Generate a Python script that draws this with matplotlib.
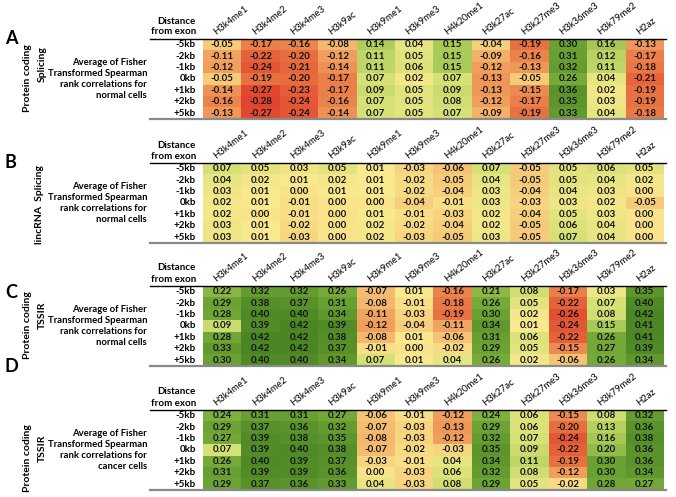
import numpy as np
import matplotlib
matplotlib.use("Agg")
from matplotlib import pyplot as plt
from matplotlib.colors import LinearSegmentedColormap, Normalize

plt.rcParams['font.family'] = ['Lato', 'DejaVu Sans']

marks = ['H3k4me1', 'H3k4me2', 'H3k4me3', 'H3k9ac', 'H3k9me1', 'H3k9me3',
         'H4k20me1', 'H3k27ac', 'H3k27me3', 'H3k36me3', 'H3k79me2', 'H2az']
dist = ['-5kb', '-2kb', '-1kb', '0kb', '+1kb', '+2kb', '+5kb']

pc_splicing = [
    [-0.05, -0.17, -0.16, -0.08, 0.14, 0.04, 0.15, -0.04, -0.19, 0.30, 0.16, -0.13],
    [-0.11, -0.22, -0.20, -0.12, 0.11, 0.05, 0.15, -0.09, -0.16, 0.31, 0.12, -0.17],
    [-0.12, -0.24, -0.21, -0.14, 0.11, 0.06, 0.15, -0.12, -0.13, 0.32, 0.11, -0.18],
    [-0.05, -0.19, -0.20, -0.17, 0.07, 0.02, 0.07, -0.13, -0.05, 0.26, 0.04, -0.21],
    [-0.14, -0.27, -0.23, -0.17, 0.09, 0.05, 0.09, -0.13, -0.15, 0.36, 0.02, -0.19],
    [-0.16, -0.28, -0.24, -0.16, 0.07, 0.05, 0.08, -0.12, -0.17, 0.35, 0.03, -0.19],
    [-0.13, -0.27, -0.24, -0.14, 0.07, 0.05, 0.07, -0.09, -0.19, 0.33, 0.04, -0.18],
]
linc_splicing = [
    [0.07, 0.05, 0.03, 0.05, 0.01, -0.03, -0.06, 0.07, -0.05, 0.05, 0.06, 0.05],
    [0.04, 0.02, 0.01, 0.02, 0.01, -0.02, -0.05, 0.04, -0.05, 0.05, 0.04, 0.02],
    [0.03, 0.01, 0.00, 0.01, 0.01, -0.02, -0.04, 0.03, -0.04, 0.04, 0.03, 0.00],
    [0.02, 0.01, -0.01, 0.00, 0.00, -0.04, -0.01, 0.03, -0.03, 0.03, 0.02, -0.05],
    [0.02, 0.00, -0.01, 0.00, 0.01, -0.01, -0.03, 0.02, -0.04, 0.05, 0.03, 0.00],
    [0.03, 0.01, -0.02, 0.00, 0.02, -0.02, -0.04, 0.02, -0.05, 0.06, 0.04, 0.00],
    [0.03, 0.01, -0.03, 0.00, 0.02, -0.03, -0.05, 0.03, -0.05, 0.07, 0.04, 0.00],
]
tssir_normal = [
    [0.22, 0.32, 0.32, 0.26, -0.07, 0.01, -0.16, 0.21, 0.08, -0.17, 0.03, 0.35],
    [0.29, 0.38, 0.37, 0.31, -0.08, -0.01, -0.18, 0.26, 0.05, -0.22, 0.07, 0.40],
    [0.28, 0.40, 0.40, 0.34, -0.11, -0.03, -0.19, 0.30, 0.02, -0.26, 0.08, 0.42],
    [0.09, 0.39, 0.42, 0.39, -0.12, -0.04, -0.11, 0.34, 0.01, -0.24, 0.15, 0.41],
    [0.28, 0.42, 0.42, 0.38, -0.08, 0.01, -0.06, 0.31, 0.06, -0.22, 0.26, 0.41],
    [0.33, 0.42, 0.42, 0.37, -0.01, 0.00, -0.02, 0.29, 0.05, -0.15, 0.27, 0.39],
    [0.30, 0.40, 0.40, 0.34, 0.07, 0.01, 0.04, 0.26, 0.02, -0.06, 0.26, 0.34],
]
tssir_cancer = [
    [0.24, 0.31, 0.31, 0.27, -0.06, -0.01, -0.12, 0.24, 0.06, -0.15, 0.08, 0.32],
    [0.29, 0.37, 0.36, 0.32, -0.07, -0.03, -0.13, 0.29, 0.06, -0.20, 0.13, 0.36],
    [0.27, 0.39, 0.38, 0.35, -0.08, -0.03, -0.12, 0.32, 0.07, -0.24, 0.16, 0.38],
    [0.07, 0.39, 0.40, 0.38, -0.07, -0.02, -0.03, 0.35, 0.09, -0.22, 0.20, 0.36],
    [0.26, 0.40, 0.39, 0.37, -0.03, -0.01, 0.04, 0.34, 0.11, -0.19, 0.30, 0.36],
    [0.31, 0.39, 0.39, 0.36, 0.00, -0.03, 0.06, 0.32, 0.08, -0.12, 0.30, 0.34],
    [0.29, 0.37, 0.36, 0.33, 0.04, -0.03, 0.08, 0.29, 0.05, -0.02, 0.28, 0.27],
]

panel_letters = ['A', 'B', 'C', 'D']
side_labels = [('Protein coding', 'Splicing'), ('lincRNA  Splicing', None),
               ('Protein coding', 'TSSIR'), ('Protein coding', 'TSSIR')]
cell_types = ['normal cells', 'normal cells', 'normal cells', 'cancer cells']
tables = [pc_splicing, linc_splicing, tssir_normal, tssir_cancer]

# red - yellow - green scale, shared by all panels
vmin, vmax = -0.28, 0.42
stops = [(-0.28, (224, 68, 46)), (-0.20, (231, 108, 62)), (-0.12, (239, 158, 92)),
         (-0.04, (246, 208, 125)), (0.01, (249, 232, 142)), (0.07, (214, 224, 118)),
         (0.15, (170, 202, 88)), (0.26, (118, 170, 56)), (0.42, (74, 134, 36))]
cmap = LinearSegmentedColormap.from_list(
    'ryg', [((v - vmin) / (vmax - vmin), tuple(c / 255 for c in rgb)) for v, rgb in stops])
norm = Normalize(vmin, vmax)

W, H = 676, 497
fig = plt.figure(figsize=(W / 100, H / 100), dpi=100)

def fx(px):
    return px / W

def fy(py):
    return 1 - py / H

# layout in pixels
tops = [39, 163, 286, 410]
letter_y = [39, 163, 292, 366]
side_off = [(39, 25), (41, None), (39, 29), (48, 38)]
x0, x1 = 203, 664
row_h = 11.4

for k in range(4):
    data = np.array(tables[k])
    top = tops[k]
    bottom = top + row_h * len(dist)
    ax = fig.add_axes([fx(x0), fy(bottom), fx(x1) - fx(x0), (bottom - top) / H])
    ax.pcolormesh(data, cmap=cmap, norm=norm)
    ax.set_xlim(0, len(marks))
    ax.set_ylim(len(dist), 0)
    ax.axis('off')
    for i in range(len(dist)):
        for j in range(len(marks)):
            ax.text(j + 0.5, i + 0.5, f"{data[i, j]:.2f}", ha='center', va='center',
                    fontsize=7, fontweight='bold', color='#111111')
    for j, m in enumerate(marks):
        ax.text(j + 0.38, -0.25, m, rotation=38, rotation_mode='anchor',
                ha='left', va='bottom', fontsize=6.8, color='black')
    for i, d in enumerate(dist):
        fig.text(fx(196), fy(top + row_h * (i + 0.5)), d, ha='right', va='center',
                 fontsize=7, fontweight='bold')
    # rules above and below the table
    fig.add_artist(plt.Line2D([fx(150), fx(666)], [fy(top), fy(top)], color='black', lw=1.0))
    fig.add_artist(plt.Line2D([fx(150), fx(666)], [fy(bottom + 0.5), fy(bottom + 0.5)],
                              color='#8a8a8a', lw=1.6))
    fig.text(fx(196), fy(top - 18), 'Distance', ha='right', va='center', fontsize=7,
             fontweight='bold')
    fig.text(fx(196), fy(top - 7), 'from exon', ha='right', va='center', fontsize=7,
             fontweight='bold')
    fig.text(fx(147), fy(top + 40),
             'Average of Fisher\nTransformed Spearman\nrank correlations for\n' + cell_types[k],
             ha='right', va='center', multialignment='right', fontsize=6.8,
             fontweight='bold', linespacing=1.3)
    fig.text(fx(5), fy(letter_y[k]), panel_letters[k], ha='left', va='center',
             fontsize=13, fontweight='bold')
    line1, line2 = side_labels[k]
    o1, o2 = side_off[k]
    if line2 is None:
        fig.text(fx(39), fy(top + o1), line1, rotation=90, ha='center', va='center',
                 fontsize=7.5, fontweight='bold')
    else:
        fig.text(fx(28), fy(top + o1), line1, rotation=90, ha='center', va='center',
                 fontsize=7.5, fontweight='bold')
        fig.text(fx(42), fy(top + o2), line2, rotation=90, ha='center', va='center',
                 fontsize=7.5, fontweight='bold')

fig.savefig('out.png', dpi=100)
